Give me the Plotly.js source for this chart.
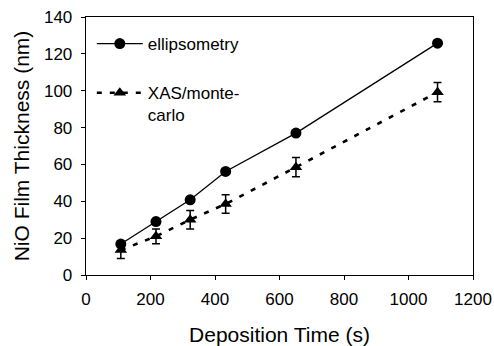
<!DOCTYPE html>
<html>
<head>
<meta charset="utf-8">
<script src="https://cdn.plot.ly/plotly-3.0.1.min.js"></script>
<style>html,body{margin:0;padding:0;background:#fff}#chart{width:494px;height:346px}</style>
</head>
<body>
<div id="chart"></div>
<script>
const depositionTime = [108, 217, 323, 433, 651, 1090];
const ellipsometry = [16.8, 29.0, 40.8, 56.2, 77.0, 125.8];
const xasMonteCarlo = [13.5, 21.0, 30.0, 38.5, 58.5, 99.2];
const xasError = [4.5, 4.0, 5.0, 5.0, 5.2, 5.2];

const fontFam = '"Liberation Sans", Arial, sans-serif';

const traces = [
  {
    x: depositionTime, y: ellipsometry, name: 'ellipsometry',
    type: 'scatter', mode: 'lines+markers', legendgroup: 'a',
    line: {color: '#000', width: 1.3},
    marker: {symbol: 'circle', size: 11, color: '#000'}
  },
  {
    x: depositionTime, y: xasMonteCarlo, name: 'XAS/monte-<br>carlo',
    type: 'scatter', mode: 'lines+markers', legendgroup: 'b',
    line: {color: '#000', width: 2.6, dash: '5px,8px'},
    marker: {symbol: 'triangle-up', size: 11, color: '#000'},
    error_y: {type: 'data', array: xasError, visible: true, color: '#000', thickness: 1.5, width: 4}
  }
];

const layout = {
  width: 494, height: 346,
  margin: {l: 86, r: 21, t: 17, b: 71},
  paper_bgcolor: '#fff', plot_bgcolor: '#fff',
  font: {family: fontFam, color: '#000', size: 17},
  showlegend: true,
  legend: {
    x: 0.015, y: 0.965, xanchor: 'left', yanchor: 'top',
    bgcolor: 'rgba(0,0,0,0)', borderwidth: 0,
    font: {family: fontFam, size: 17, color: '#000'},
    itemwidth: 46, traceorder: 'grouped', tracegroupgap: 24, valign: 'top'
  },
  xaxis: {
    range: [0, 1200], dtick: 200, tick0: 0,
    showgrid: false, zeroline: false,
    showline: true, linecolor: '#000', linewidth: 1.3, mirror: true,
    ticks: 'outside', ticklen: 4, tickcolor: '#000', tickwidth: 1,
    ticklabelstandoff: 4,
    tickfont: {family: fontFam, size: 17, color: '#000'},
    title: {text: 'Deposition Time (s)', font: {family: fontFam, size: 21, color: '#000'}, standoff: 20}
  },
  yaxis: {
    range: [0, 140], dtick: 20, tick0: 0,
    showgrid: false, zeroline: false,
    showline: true, linecolor: '#000', linewidth: 1.3, mirror: true,
    ticks: 'outside', ticklen: 4, tickcolor: '#000', tickwidth: 1,
    ticklabelstandoff: 5,
    tickfont: {family: fontFam, size: 17, color: '#000'},
    title: {text: 'NiO Film Thickness (nm)', font: {family: fontFam, size: 21, color: '#000'}, standoff: 8}
  }
};

Plotly.newPlot('chart', traces, layout, {displayModeBar: false, staticPlot: true});
</script>
</body>
</html>
